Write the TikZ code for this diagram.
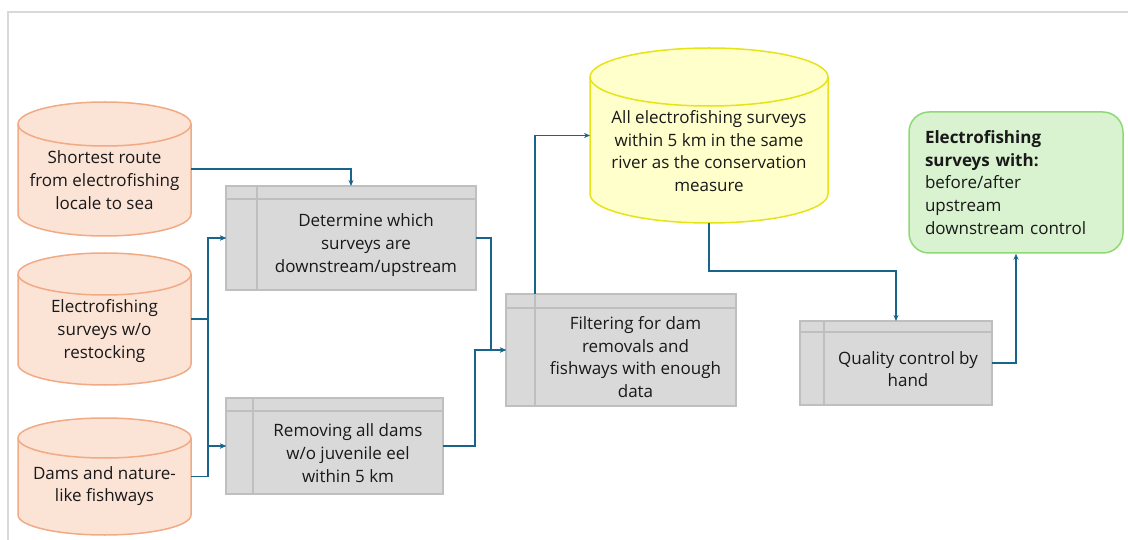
\documentclass[tikz,border=0pt]{standalone}
\usepackage{fontspec}
\setmainfont{Open Sans}
\usetikzlibrary{arrows.meta,calc}

\definecolor{flow}{RGB}{24,100,138}
\definecolor{peachfill}{RGB}{251,227,214}
\definecolor{peachline}{RGB}{242,170,132}
\definecolor{yelfill}{RGB}{255,255,204}
\definecolor{yelline}{RGB}{230,228,20}
\definecolor{boxfill}{RGB}{217,217,217}
\definecolor{boxline}{RGB}{191,191,191}
\definecolor{greenfill}{RGB}{217,242,208}
\definecolor{greenline}{RGB}{142,217,115}
\definecolor{framecol}{RGB}{217,217,217}

% cylinder outline: #1 centre x, #2 top y, #3 bottom y, #4 half width (pt), #5 cap radius (pt), #6 style
\newcommand\drumshape[6]{%
  \filldraw[#6] (#1-#4,#2+#5) -- (#1-#4,#3-#5)
     arc[start angle=180,end angle=360,x radius=#4pt,y radius=#5pt]
     -- (#1+#4,#2+#5)
     arc[start angle=0,end angle=180,x radius=#4pt,y radius=#5pt] -- cycle;
  \draw[#6,fill=none] (#1-#4,#2+#5)
     arc[start angle=180,end angle=360,x radius=#4pt,y radius=#5pt];
}

\tikzset{
  txt/.style={font=\fontsize{17}{22.7}\selectfont, align=center, inner sep=0pt, text=black!90},
  area/.style={inner sep=0pt, outer sep=0pt},
  peach/.style={fill=peachfill, draw=peachline, line width=1.5pt},
  yel/.style={fill=yelfill, draw=yelline, line width=1.5pt},
  procbox/.style={rectangle, fill=boxfill, draw=boxline, line width=1.5pt, inner sep=0pt, outer sep=0pt},
  grid/.style={draw=boxline, line width=1.5pt},
  flowline/.style={draw=flow, line width=1.5pt, -{Stealth[length=6pt,width=5pt]}},
}

\begin{document}
\begin{tikzpicture}[x=1pt,y=-1pt]
\useasboundingbox (0,0) rectangle (1128,540);

% page frame
\draw[framecol, line width=1.5pt] (8,540) -- (8,12) -- (1128,12);

% data sources (cylinders)
\drumshape{104.5}{102}{236}{86.5}{22}{peach}
\node[area, minimum width=173pt, minimum height=134pt] (src1) at (104.5,169) {};
\node[txt] (src1t) at (104.5,180) {Shortest route\\from electrofishing\\locale to sea};

\drumshape{104.5}{253}{385}{86.5}{21}{peach}
\node[area, minimum width=173pt, minimum height=132pt] (src2) at (104.5,319) {};
\node[txt] (src2t) at (104.5,331) {Electrofishing\\surveys w/o\\restocking};

\drumshape{104.5}{418}{535}{86.5}{20}{peach}
\node[area, minimum width=173pt, minimum height=117pt] (src3) at (104.5,476.5) {};
\node[txt] (src3t) at (104.5,486) {Dams and nature-\\like fishways};

\drumshape{709}{48}{223}{119}{29}{yel}
\node[area, minimum width=238pt, minimum height=175pt] (pool) at (709,135.5) {};
\node[txt] (poolt) at (709,151) {All electrofishing surveys\\within 5 km in the same\\river as the conservation\\measure};

% process boxes
\node[procbox, minimum width=250pt, minimum height=104pt] (box1) at (351,238) {};
\draw[grid] ($(box1.north west)+(0,13)$) -- ($(box1.north east)+(0,13)$);
\draw[grid] ($(box1.north west)+(31,0)$) -- ($(box1.south west)+(31,0)$);
\node[txt] (box1t) at (366,245) {Determine which\\surveys are\\downstream/upstream};

\node[procbox, minimum width=217pt, minimum height=96pt] (box2) at (334.5,446) {};
\draw[grid] ($(box2.north west)+(0,13)$) -- ($(box2.north east)+(0,13)$);
\draw[grid] ($(box2.north west)+(27,0)$) -- ($(box2.south west)+(27,0)$);
\node[txt] (box2t) at (348,453) {Removing all dams\\w/o juvenile eel\\within 5 km};

\node[procbox, minimum width=230pt, minimum height=112pt] (box3) at (621,350) {};
\draw[grid] ($(box3.north west)+(0,14)$) -- ($(box3.north east)+(0,14)$);
\draw[grid] ($(box3.north west)+(29,0)$) -- ($(box3.south west)+(29,0)$);
\node[txt] (box3t) at (635.5,357) {Filtering for dam\\removals and\\fishways with enough\\data};

\node[procbox, minimum width=192pt, minimum height=84pt] (box4) at (896,363) {};
\draw[grid] ($(box4.north west)+(0,11)$) -- ($(box4.north east)+(0,11)$);
\draw[grid] ($(box4.north west)+(24,0)$) -- ($(box4.south west)+(24,0)$);
\node[txt] (box4t) at (908,369) {Quality control by\\hand};

% result
\node[rectangle, rounded corners=20pt, fill=greenfill, draw=greenline, line width=1.5pt,
      minimum width=214pt, minimum height=141pt, inner xsep=16pt, inner ysep=0pt,
      text width=182pt, align=left, font=\fontsize{17}{22.7}\selectfont, text=black!90]
  (result) at (1016,182.5)
  {\textbf{Electrofishing}\\\textbf{surveys with:}\\before/after\\upstream\\downstream control};

% connectors
\draw[flowline] (src1.east) -| (box1.north);
\draw[flowline] (src2.east) -- (208,319) |- (box1.west);
\draw[flowline] (src2.east) -- (208,319) |- (box2.west);
\draw[flowline] (src3.east) -- (208,476.5) |- (box1.west);
\draw[flowline] (src3.east) -- (208,476.5) |- (box2.west);
\draw[flowline] (box1.east) -- (491,238) |- (box3.west);
\draw[flowline] (box2.east) -- (475,446) |- (box3.west);
\draw[flowline] ($(box3.north west)+(29,0)$) |- (pool.west);
\draw[flowline] (pool.south) -- (709,271) -| (box4.north);
\draw[flowline] (box4.east) -| (result.south);
\end{tikzpicture}
\end{document}
